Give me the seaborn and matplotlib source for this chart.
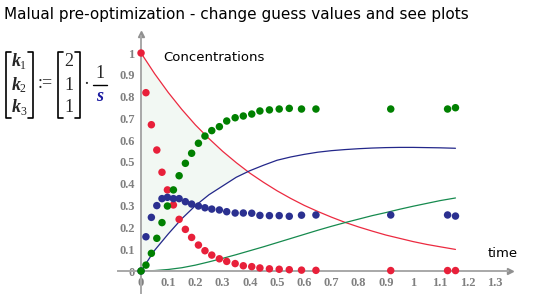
import numpy as np
import pandas as pd
import matplotlib
matplotlib.use("Agg")
import matplotlib.pyplot as plt
import seaborn as sns
from matplotlib.lines import Line2D

# measured concentrations (dots)
t_data = [0, 0.018, 0.038, 0.058, 0.077, 0.097, 0.119, 0.14, 0.163, 0.186, 0.211, 0.235, 0.26, 0.288,
          0.315, 0.346, 0.376, 0.407, 0.437, 0.472, 0.508, 0.545, 0.59, 0.643, 0.918, 1.127, 1.156]
A_data = [1.0, 0.818, 0.671, 0.555, 0.453, 0.372, 0.303, 0.237, 0.191, 0.154, 0.119, 0.093, 0.073, 0.056,
          0.044, 0.034, 0.024, 0.02, 0.014, 0.01, 0.008, 0.006, 0.004, 0.003, 0.002, 0.002, 0.002]
B_data = [0, 0.157, 0.246, 0.30, 0.332, 0.338, 0.332, 0.332, 0.318, 0.307, 0.298, 0.29, 0.284, 0.28,
          0.272, 0.266, 0.266, 0.265, 0.255, 0.254, 0.254, 0.251, 0.256, 0.257, 0.257, 0.257, 0.252]
C_data = [0, 0.027, 0.081, 0.15, 0.222, 0.298, 0.372, 0.437, 0.494, 0.54, 0.586, 0.619, 0.644, 0.662,
          0.688, 0.703, 0.711, 0.72, 0.734, 0.739, 0.743, 0.746, 0.743, 0.743, 0.743, 0.743, 0.749]

# model curves with guess values (lines)
t_model = [0, 0.05, 0.1, 0.15, 0.2, 0.25, 0.3, 0.35, 0.4, 0.45, 0.5, 0.55, 0.6, 0.65, 0.7, 0.75,
           0.8, 0.85, 0.9, 0.95, 1.0, 1.05, 1.1, 1.156]
A_model = [1, 0.905, 0.819, 0.741, 0.670, 0.607, 0.549, 0.497, 0.449, 0.407, 0.368, 0.333, 0.301,
           0.273, 0.247, 0.223, 0.202, 0.183, 0.165, 0.150, 0.135, 0.122, 0.111, 0.099]
B_model = [0, 0.095, 0.17, 0.24, 0.30, 0.35, 0.39, 0.43, 0.46, 0.485, 0.508, 0.523, 0.535, 0.545,
           0.552, 0.557, 0.561, 0.564, 0.566, 0.567, 0.567, 0.566, 0.565, 0.563]
C_model = [0, 0.002, 0.007, 0.015, 0.027, 0.042, 0.058, 0.075, 0.093, 0.111, 0.13, 0.149, 0.168,
           0.187, 0.205, 0.222, 0.238, 0.254, 0.268, 0.283, 0.297, 0.31, 0.323, 0.335]

x_ticks = [0, 0.1, 0.2, 0.3, 0.4, 0.5, 0.6, 0.7, 0.8, 0.9, 1.0, 1.1, 1.2, 1.3]
x_labels = ["0", "0.1", "0.2", "0.3", "0.4", "0.5", "0.6", "0.7", "0.8", "0.9", "1", "1.1", "1.2", "1.3"]
y_ticks = [0, 0.1, 0.2, 0.3, 0.4, 0.5, 0.6, 0.7, 0.8, 0.9, 1.0]
y_labels = ["0", "0.1", "0.2", "0.3", "0.4", "0.5", "0.6", "0.7", "0.8", "0.9", "1"]

dots = pd.concat([
    pd.DataFrame({"t": t_data, "c": A_data, "sp": "A"}),
    pd.DataFrame({"t": t_data, "c": B_data, "sp": "B"}),
    pd.DataFrame({"t": t_data, "c": C_data, "sp": "C"}),
], ignore_index=True)
model = pd.concat([
    pd.DataFrame({"t": t_model, "c": A_model, "sp": "A"}),
    pd.DataFrame({"t": t_model, "c": B_model, "sp": "B"}),
    pd.DataFrame({"t": t_model, "c": C_model, "sp": "C"}),
], ignore_index=True)

dot_pal = {"A": "#e8203a", "B": "#2b3090", "C": "#008000"}
line_pal = {"A": "#ec2a40", "B": "#23278a", "C": "#168a4e"}

sns.set_style("white")
W, H = 545, 295
fig = plt.figure(figsize=(W / 100, H / 100), dpi=100)
ax = fig.add_axes([108.4 / W, 2.2 / H, 408 / W, 261.6 / H])
ax.set_xlim(-0.12, 1.38)
ax.set_ylim(-0.1, 1.1)

ax.fill_between(t_model, B_model, A_model, where=np.array(A_model) >= np.array(B_model),
                interpolate=True, color="#f2f8f3", lw=0, zorder=0)
sns.lineplot(data=model, x="t", y="c", hue="sp", palette=line_pal, legend=False,
             linewidth=0.9, sort=False, estimator=None, ax=ax, zorder=2)
sns.scatterplot(data=dots, x="t", y="c", hue="sp", palette=dot_pal, legend=False,
                s=29, linewidth=0, ax=ax, zorder=3)

ax.set_xlabel("")
ax.set_ylabel("")
for s in ["top", "right"]:
    ax.spines[s].set_visible(False)
for s in ["left", "bottom"]:
    ax.spines[s].set_position(("data", 0))
    ax.spines[s].set_color("#a8a8a8")
    ax.spines[s].set_linewidth(1.4)
ax.spines["left"].set_bounds(-0.1, 1.08)
ax.spines["bottom"].set_bounds(-0.085, 1.35)
ax.plot([1.355], [0], marker=">", color="#909090", markersize=5, clip_on=False, zorder=1)
ax.plot([0], [1.085], marker="^", color="#909090", markersize=5, clip_on=False, zorder=1)

ax.set_xticks(x_ticks)
ax.set_xticklabels(x_labels)
ax.set_yticks(y_ticks)
ax.set_yticklabels(y_labels)
ax.tick_params(direction="inout", length=5, width=1, color="#a8a8a8",
               labelsize=9, labelcolor="#808080", pad=2)
for lab in ax.get_xticklabels() + ax.get_yticklabels():
    lab.set_fontfamily("Liberation Serif")
    lab.set_fontweight("bold")

ax.text(0.081, 0.98, "Concentrations", fontsize=9.5, va="center", ha="left", color="black")
ax.text(1.275, 0.078, "time", fontsize=9.5, va="center", ha="left", color="black")

fig.text(4 / W, 1 - 14 / H, "Malual pre-optimization - change guess values and see plots",
         fontsize=11, ha="left", va="center", color="black")


def px(x, y):
    return x / W, 1 - y / H


# matrix brackets: vertical stroke at xv, serifs towards xt
def bracket(xv, xt):
    fx = [v / W for v in [xt, xv, xv, xt]]
    fy = [1 - v / H for v in [52, 52, 118, 118]]
    fig.add_artist(Line2D(fx, fy, color="black", lw=1.2))


bracket(6, 11)
bracket(33, 28)
bracket(58, 63)
bracket(80, 75)

for i, y in enumerate([62, 85, 108]):
    fig.text(*px(12, y), "k", fontsize=13, family="Liberation Serif", style="italic",
             weight="bold", ha="left", va="center")
    fig.text(*px(20, y + 4), str(i + 1), fontsize=8.5, family="Liberation Serif",
             ha="left", va="center")
for v, y in zip(["2", "1", "1"], [62, 85, 108]):
    fig.text(*px(69, y), v, fontsize=13, family="Liberation Serif", ha="center", va="center")

fig.text(*px(45, 84), ":=", fontsize=13, family="Liberation Serif", ha="center", va="center")
fig.text(*px(86, 85), "·", fontsize=13, family="Liberation Serif", ha="center", va="center")
fig.text(*px(100, 73), "1", fontsize=13, family="Liberation Serif", ha="center", va="center")
fig.add_artist(Line2D([93 / W, 107 / W], [1 - 85 / H, 1 - 85 / H], color="black", lw=1))
fig.text(*px(100, 97), "s", fontsize=13, family="Liberation Serif", style="italic",
         weight="bold", color="#1a1aa0", ha="center", va="center")

fig.savefig("out.png", dpi=100)
